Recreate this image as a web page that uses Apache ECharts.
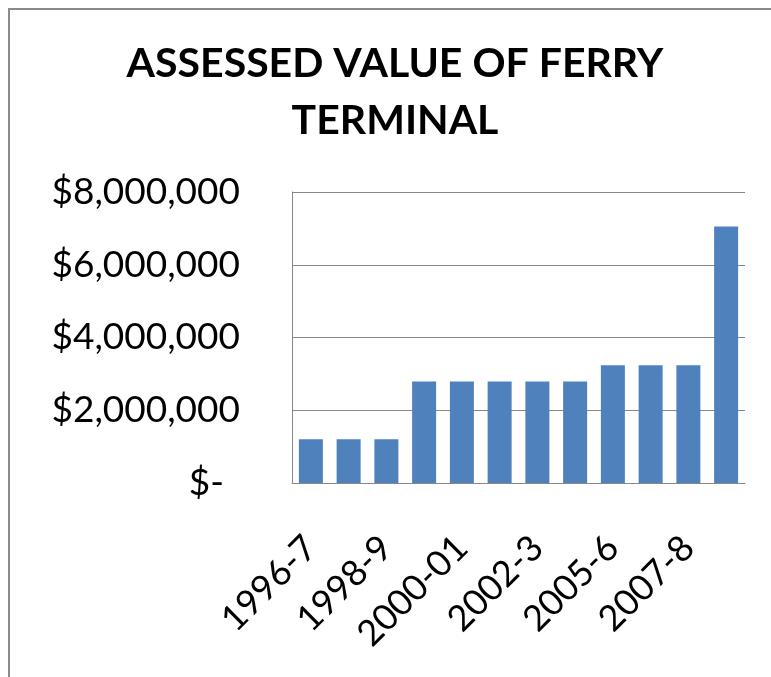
<!DOCTYPE html>
<html>
<head>
<meta charset="utf-8">
<script src="https://cdn.jsdelivr.net/npm/echarts@6/dist/echarts.min.js"></script>
<style>
  html, body { margin: 0; padding: 0; background: #fff; }
  #chart { width: 771px; height: 677px; }
</style>
</head>
<body>
<div id="chart"></div>
<script>
var years = ['1996-7', '1997-8', '1998-9', '1999-00', '2000-01', '2001-02',
  '2002-3', '2003-4', '2005-6', '2006-7', '2007-8', '2008-9'];
var values = [1200000, 1200000, 1200000, 2790000, 2790000, 2790000,
  2790000, 2790000, 3240000, 3240000, 3240000, 7050000];
var yTicks = [0, 2000000, 4000000, 6000000, 8000000];

var myChart = echarts.init(document.getElementById('chart'));

function money(v) {
  if (v === 0) return '{z|$-}';
  return '$' + v.toLocaleString('en-US');
}

var option = {
  backgroundColor: '#fff',
  animation: false,
  title: {
    text: 'ASSESSED VALUE OF FERRY\nTERMINAL',
    left: 390,
    top: 30,
    textAlign: 'center',
    textStyle: {
      fontFamily: 'Lato',
      fontWeight: 'bold',
      fontSize: 41,
      lineHeight: 57,
      color: '#000'
    }
  },
  graphic: [
    {
      type: 'polyline',
      shape: { points: [[9, 677], [9, 9], [771, 9]] },
      style: { stroke: '#8a8a8a', lineWidth: 2, fill: null }
    }
  ],
  grid: {
    left: 292,
    right: 26,
    top: 192,
    bottom: 194
  },
  xAxis: {
    type: 'category',
    data: years,
    axisLine: { lineStyle: { color: '#888', width: 1 } },
    axisTick: { show: false },
    axisLabel: {
      interval: 1,
      rotate: 45,
      margin: 59,
      fontFamily: 'Lato',
      fontSize: 36,
      color: '#000'
    }
  },
  yAxis: {
    type: 'value',
    min: yTicks[0],
    max: yTicks[yTicks.length - 1],
    interval: yTicks[1] - yTicks[0],
    axisLine: { show: true, lineStyle: { color: '#888', width: 1 } },
    axisTick: { show: false },
    splitLine: { lineStyle: { color: '#888', width: 1 } },
    axisLabel: {
      margin: 52,
      fontFamily: 'Lato',
      fontSize: 37,
      color: '#000',
      formatter: money,
      rich: {
        z: { fontFamily: 'Lato', fontSize: 37, color: '#000', padding: [0, 16, 0, 0] }
      }
    }
  },
  series: [
    {
      type: 'bar',
      data: values,
      barWidth: 24,
      itemStyle: { color: '#4F81BD' }
    }
  ]
};

myChart.setOption(option);
</script>
</body>
</html>
